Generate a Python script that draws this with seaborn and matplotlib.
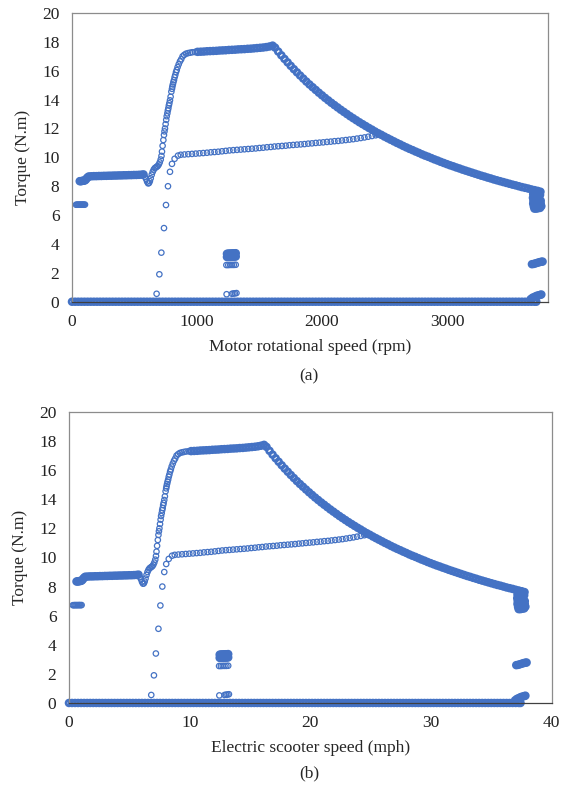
import numpy as np
import pandas as pd
import matplotlib
matplotlib.use("Agg")
import matplotlib.pyplot as plt
import seaborn as sns

# Torque (N.m) against motor speed (rpm)
zero_rpm = [0, 25, 50, 75, 100, 125, 150, 175, 200, 225, 250, 275, 300, 325, 350,
            375, 400, 425, 450, 475, 500, 525, 550, 575, 600, 625, 650, 675, 700,
            725, 750, 775, 800, 825, 850, 875, 900, 925, 950, 975, 1000, 1025, 1050,
            1075, 1100, 1125, 1150, 1175, 1200, 1225, 1250, 1275, 1300, 1325, 1350,
            1375, 1400, 1425, 1450, 1475, 1500, 1525, 1550, 1575, 1600, 1625, 1650,
            1675, 1700, 1725, 1750, 1775, 1800, 1825, 1850, 1875, 1900, 1925, 1950,
            1975, 2000, 2025, 2050, 2075, 2100, 2125, 2150, 2175, 2200, 2225, 2250,
            2275, 2300, 2325, 2350, 2375, 2400, 2425, 2450, 2475, 2500, 2525, 2550,
            2575, 2600, 2625, 2650, 2675, 2700, 2725, 2750, 2775, 2800, 2825, 2850,
            2875, 2900, 2925, 2950, 2975, 3000, 3025, 3050, 3075, 3100, 3125, 3150,
            3175, 3200, 3225, 3250, 3275, 3300, 3325, 3350, 3375, 3400, 3425, 3450,
            3475, 3500, 3525, 3550, 3575, 3600, 3625, 3650, 3675, 3700, 3715]

low_rpm = [32, 40, 48, 56, 64, 72, 80, 88, 96, 104]
low_torque = [6.72, 6.72, 6.73, 6.72, 6.73, 6.72, 6.73, 6.73, 6.72, 6.73]

start_rpm = [62, 70, 78, 86, 94, 102, 110, 118, 126]
start_torque = [8.35, 8.35, 8.36, 8.38, 8.38, 8.4, 8.45, 8.55, 8.62]

flat_rpm = [135, 155, 175, 195, 215, 235, 255, 275, 295, 315, 335, 355, 375, 395,
            415, 435, 455, 475, 495, 515, 535, 555, 572]
flat_torque = [8.68, 8.69, 8.7, 8.7, 8.71, 8.71, 8.72, 8.72, 8.73, 8.73, 8.74, 8.74,
               8.75, 8.75, 8.76, 8.76, 8.77, 8.77, 8.78, 8.78, 8.79, 8.8, 8.82]

dip_rpm = [583, 593, 601, 609, 616, 623, 630, 638, 646, 654, 662, 670, 678, 686,
           694, 702, 710]
dip_torque = [8.65, 8.5, 8.32, 8.2, 8.22, 8.35, 8.55, 8.8, 9.0, 9.15, 9.25, 9.3,
              9.35, 9.4, 9.5, 9.65, 9.85]

rise_rpm = [716, 720, 725, 731, 736, 740, 744, 749, 754, 758, 763, 767, 771, 775,
            779, 784, 789, 795, 800, 803, 807, 811, 816, 821, 826, 832, 838, 845,
            854, 864, 874, 885, 898, 912, 928, 944, 962, 984]
rise_torque = [10.1, 10.4, 10.8, 11.2, 11.55, 11.8, 12.0, 12.3, 12.6, 12.85, 13.05,
               13.25, 13.4, 13.6, 13.75, 13.95, 14.2, 14.55, 14.75, 14.9, 15.05,
               15.2, 15.35, 15.55, 15.7, 15.9, 16.05, 16.25, 16.45, 16.65, 16.8,
               17.0, 17.1, 17.18, 17.22, 17.25, 17.28, 17.3]

plateau_rpm = [1005, 1030, 1055, 1080, 1105, 1130, 1155, 1180, 1205, 1230, 1255,
               1280, 1305, 1330, 1355, 1380, 1405, 1430, 1455, 1480, 1505, 1530,
               1555, 1580, 1605]
plateau_torque = [17.31, 17.32, 17.33, 17.35, 17.36, 17.37, 17.38, 17.4, 17.41,
                  17.42, 17.44, 17.45, 17.46, 17.48, 17.49, 17.5, 17.52, 17.53,
                  17.55, 17.57, 17.59, 17.61, 17.64, 17.68, 17.74]

hyper_rpm = [1625, 1650, 1675, 1700, 1725, 1750, 1775, 1800, 1825, 1850, 1875, 1900,
             1925, 1950, 1975, 2000, 2025, 2050, 2075, 2100, 2125, 2150, 2175, 2200,
             2225, 2250, 2275, 2300, 2325, 2350, 2375, 2400, 2425, 2450, 2475, 2500,
             2525, 2550, 2575, 2600, 2625, 2650, 2675, 2700, 2725, 2750, 2775, 2800,
             2825, 2850, 2875, 2900, 2925, 2950, 2975, 3000, 3025, 3050, 3075, 3100,
             3125, 3150, 3175, 3200, 3225, 3250, 3275, 3300, 3325, 3350, 3375, 3400,
             3425, 3450, 3475, 3500, 3525, 3550, 3575, 3600, 3625, 3650, 3675, 3700,
             3725]
hyper_torque = [17.60, 17.33, 17.07, 16.82, 16.58, 16.34, 16.11, 15.89, 15.67, 15.46,
                15.25, 15.05, 14.86, 14.67, 14.48, 14.30, 14.12, 13.95, 13.78, 13.62,
                13.46, 13.30, 13.15, 13.00, 12.85, 12.71, 12.57, 12.43, 12.30, 12.17,
                12.04, 11.92, 11.79, 11.67, 11.56, 11.44, 11.33, 11.22, 11.11, 11.00,
                10.90, 10.79, 10.69, 10.59, 10.50, 10.40, 10.31, 10.21, 10.12, 10.04,
                9.95, 9.86, 9.78, 9.69, 9.61, 9.53, 9.45, 9.38, 9.30, 9.23, 9.15, 9.08,
                9.01, 8.94, 8.87, 8.80, 8.73, 8.67, 8.60, 8.54, 8.47, 8.41, 8.35, 8.29,
                8.23, 8.17, 8.11, 8.06, 8.00, 7.94, 7.89, 7.84, 7.78, 7.73, 7.68]

branch_rpm = [677, 699, 715, 736, 752, 768, 784, 800, 821, 848, 870, 900, 930, 960,
              990, 1020, 1050, 1080, 1110, 1140, 1170, 1200, 1230, 1260, 1290, 1320,
              1350, 1380, 1410, 1440, 1470, 1500, 1530, 1560, 1590, 1620, 1650, 1680,
              1710, 1740, 1770, 1800, 1830, 1860, 1890, 1920, 1950, 1980, 2010, 2040,
              2070, 2100, 2130, 2160, 2190, 2220, 2250, 2280, 2310, 2340, 2370, 2400,
              2430, 2450]
branch_torque = [0.55, 1.9, 3.4, 5.1, 6.7, 8.0, 9.0, 9.55, 9.9, 10.12, 10.18, 10.2,
                 10.22, 10.24, 10.26, 10.28, 10.3, 10.32, 10.35, 10.37, 10.39, 10.42,
                 10.45, 10.48, 10.5, 10.52, 10.54, 10.56, 10.58, 10.6, 10.62, 10.65,
                 10.67, 10.7, 10.72, 10.75, 10.77, 10.79, 10.81, 10.84, 10.86, 10.88,
                 10.9, 10.92, 10.95, 10.97, 11.0, 11.02, 11.04, 11.07, 11.09, 11.12,
                 11.14, 11.17, 11.2, 11.23, 11.26, 11.3, 11.34, 11.38, 11.43, 11.48,
                 11.53, 11.57]

# bloque en torno a 1270 rpm (3.0-3.4 N.m denso)
blob_rpm = [1240, 1250, 1260, 1270, 1280, 1290, 1300, 1310,
            1240, 1250, 1260, 1270, 1280, 1290, 1300, 1310]
blob_torque = [3.32, 3.33, 3.33, 3.34, 3.34, 3.35, 3.35, 3.36,
               3.1, 3.1, 3.11, 3.11, 3.12, 3.12, 3.13, 3.13]

# filas sueltas en torno a 1270 rpm
mid_rpm = [1235, 1250, 1265, 1280, 1295, 1310,
           1237, 1280, 1292, 1304, 1316]
mid_torque = [2.54, 2.54, 2.55, 2.55, 2.55, 2.56,
              0.52, 0.55, 0.57, 0.58, 0.6]

end_rpm = [3690, 3705, 3720, 3735, 3748, 3688, 3700, 3715, 3730, 3745,
           3692, 3705, 3720, 3735, 3750, 3690, 3705, 3720, 3735, 3750,
           3695, 3710, 3725, 3740, 3755, 3700, 3715, 3730, 3745,
           3680, 3695, 3710, 3725, 3740, 3755, 3765,
           3670, 3685, 3700, 3715, 3730, 3745, 3755]
end_torque = [7.45, 7.5, 7.55, 7.6, 7.62, 7.2, 7.25, 7.3, 7.35, 7.4,
              7.0, 6.95, 7.05, 7.1, 7.0, 6.8, 6.75, 6.8, 6.85, 6.8,
              6.6, 6.55, 6.6, 6.6, 6.62, 6.45, 6.45, 6.48, 6.5,
              2.6, 2.62, 2.66, 2.7, 2.74, 2.77, 2.78,
              0.18, 0.28, 0.33, 0.4, 0.44, 0.47, 0.5]

# motor speed to scooter speed, from the two x axes
rpm_per_mph = 99.3

# Armar tabla: los tramos muy densos se dibujan con borde mas grueso
def tramo(xs, ys, denso):
    return pd.DataFrame({"rpm": xs, "torque": ys, "denso": denso})

df = pd.concat([
    tramo(zero_rpm, [0.0] * len(zero_rpm), True),
    tramo(low_rpm, low_torque, False),
    tramo(start_rpm, start_torque, True),
    tramo(flat_rpm, flat_torque, True),
    tramo(dip_rpm, dip_torque, False),
    tramo(rise_rpm, rise_torque, False),
    tramo(plateau_rpm, plateau_torque, True),
    tramo(hyper_rpm, hyper_torque, True),
    tramo(branch_rpm, branch_torque, False),
    tramo(blob_rpm, blob_torque, True),
    tramo(mid_rpm, mid_torque, False),
    tramo(end_rpm, end_torque, True),
], ignore_index=True)
df["mph"] = df["rpm"] / rpm_per_mph

# Estilo
sns.set_style("white")
plt.rcParams["font.family"] = ["Liberation Serif", "DejaVu Serif"]
blue = "#4472C4"

fig = plt.figure(figsize=(5.7, 7.88), dpi=100)
ax1 = fig.add_axes([0.1263, 0.6171, 0.835, 0.3664])
ax2 = fig.add_axes([0.121, 0.1079, 0.847, 0.3693])

panels = [
    (ax1, "rpm", "Motor rotational speed (rpm)", (0, 3808), [0, 1000, 2000, 3000], "(a)", 376),
    (ax2, "mph", "Electric scooter speed (mph)", (0, 40), [0, 10, 20, 30, 40], "(b)", 773),
]

for ax, col, xlabel, xlim, xticks, tag, ypix in panels:
    for denso, size, lw in [(False, 15, 0.9), (True, 17, 2.0)]:
        sub = df[df["denso"] == denso]
        sns.scatterplot(data=sub, x=col, y="torque", ax=ax, marker="o", s=size,
                        color=blue, linewidth=lw, clip_on=False, legend=False)
        pts = ax.collections[-1]
        pts.set_facecolor("none")
        pts.set_edgecolor(blue)
    ax.set_xlim(*xlim)
    ax.set_ylim(0, 20)
    ax.set_xticks(xticks)
    ax.set_yticks(range(0, 21, 2))
    ax.tick_params(length=0, labelsize=12.5, pad=9, colors="#222222")
    ax.set_xlabel(xlabel, fontsize=12.5, labelpad=6)
    ax.set_ylabel("Torque (N.m)", fontsize=12.5, labelpad=8)
    for side in ["top", "right", "left"]:
        ax.spines[side].set_color("#8c8c8c")
        ax.spines[side].set_linewidth(0.9)
    ax.spines["bottom"].set_color("#404040")
    ax.spines["bottom"].set_linewidth(0.9)
    fig.text(309 / 570, 1 - ypix / 788, tag, ha="center", va="center", fontsize=12.5)

fig.savefig("out.png", dpi=100)
